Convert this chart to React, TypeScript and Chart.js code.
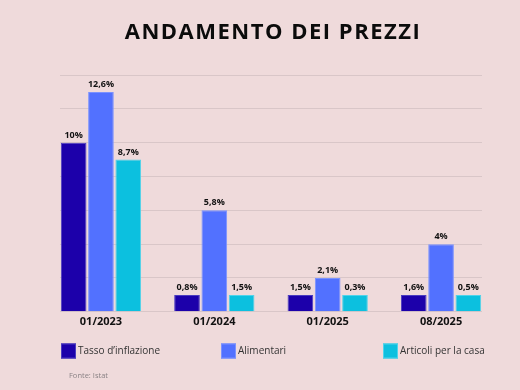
import React, { useEffect, useRef } from "react";
import { Chart, registerables } from "chart.js";

Chart.register(...registerables);

const TITLE = "ANDAMENTO DEI PREZZI";
const SOURCE = "Fonte: Istat";
const categories = ["01/2023", "01/2024", "01/2025", "08/2025"];
const seriesNames = ["Tasso d’inflazione", "Alimentari", "Articoli per la casa"];
const seriesColors = ["#1C00AA", "#5271FF", "#0CC0DF"];
const seriesBorders = ["#4A3BC0", "#7A92FF", "#4FD3EA"];

// bar heights as drawn in the picture
const inflazione = [10, 1, 1, 1];
const alimentari = [13, 6, 2, 4];
const casa = [9, 1, 1, 1];

// value labels printed above the bars
const inflazioneLabels = ["10%", "0,8%", "1,5%", "1,6%"];
const alimentariLabels = ["12,6%", "5,8%", "2,1%", "4%"];
const casaLabels = ["8,7%", "1,5%", "0,3%", "0,5%"];

const yMin = 0;
const yMax = 14;
const yStep = 2;

const BG = "#EFDADB";
const GRID = "#D9C6C8";

const values = [inflazione, alimentari, casa];
const labelSets = [inflazioneLabels, alimentariLabels, casaLabels];

const overlayPlugin = {
  id: "overlay",
  afterDatasetsDraw(chart: any) {
    const ctx = chart.ctx;
    ctx.save();
    ctx.fillStyle = "#111";
    ctx.font = "bold 9px 'Open Sans'";
    ctx.textAlign = "center";
    ctx.textBaseline = "bottom";
    chart.data.datasets.forEach((ds: any, di: number) => {
      const meta = chart.getDatasetMeta(di);
      meta.data.forEach((bar: any, i: number) => {
        ctx.fillText(ds.valueLabels[i], bar.x, bar.y - 3);
      });
    });
    ctx.restore();
  },
  afterDraw(chart: any) {
    const ctx = chart.ctx;
    const area = chart.chartArea;
    ctx.save();
    // title
    ctx.fillStyle = "#0B0B0B";
    ctx.font = "bold 22px 'Open Sans'";
    ctx.textAlign = "center";
    ctx.textBaseline = "middle";
    (ctx as any).letterSpacing = "1.5px";
    ctx.fillText(TITLE, (area.left + area.right) / 2 + 2, 33);
    (ctx as any).letterSpacing = "0px";
    // legend
    const legendX = [61, 221, 383];
    const legendY = 351;
    ctx.textAlign = "left";
    ctx.font = "10px 'Open Sans'";
    chart.data.datasets.forEach((ds: any, di: number) => {
      const x = legendX[di];
      ctx.fillStyle = ds.backgroundColor;
      ctx.fillRect(x, legendY - 7.5, 15, 15);
      ctx.strokeStyle = ds.borderColor;
      ctx.lineWidth = 1;
      ctx.strokeRect(x + 0.5, legendY - 7, 14, 14);
      ctx.fillStyle = "#333";
      ctx.fillText(ds.label, x + 17, legendY);
    });
    // source
    ctx.fillStyle = "#8A8285";
    ctx.font = "7.5px 'Open Sans'";
    ctx.fillText(SOURCE, 69, 376);
    ctx.restore();
  },
};

export default function App() {
  const canvasRef = useRef<HTMLCanvasElement | null>(null);

  useEffect(() => {
    if (!canvasRef.current) return;
    const chart = new Chart(canvasRef.current, {
      type: "bar",
      data: {
        datasets: seriesNames.map((name, di) => ({
          label: name,
          data: values[di].map((v, i) => ({ x: i, y: v })),
          valueLabels: labelSets[di],
          backgroundColor: seriesColors[di],
          borderColor: seriesBorders[di],
          borderWidth: 1,
          categoryPercentage: 0.7225,
          barPercentage: 0.94,
        })) as any,
      },
      options: {
        responsive: false,
        animation: false,
        layout: { padding: { top: 75, left: 60, right: 38, bottom: 59 } },
        plugins: {
          legend: { display: false },
          title: { display: false },
          tooltip: { enabled: false },
        },
        scales: {
          x: {
            type: "linear",
            offset: false,
            bounds: "data",
            min: -0.3612,
            max: categories.length - 1 + 0.3612,
            afterBuildTicks: (axis: any) => {
              axis.ticks = categories.map((_, i) => ({ value: i }));
            },
            grid: { display: false, drawTicks: false, offset: false },
            border: { display: false },
            ticks: {
              callback: (v: any) => categories[Math.round(Number(v))] ?? "",
              color: "#111",
              font: { family: "'Open Sans'", size: 11, weight: "bold" },
              padding: 3,
              maxRotation: 0,
              autoSkip: false,
            },
          },
          y: {
            min: yMin,
            max: yMax,
            ticks: { display: false, stepSize: yStep },
            grid: { color: GRID, lineWidth: 1, drawTicks: false },
            border: { display: false },
          },
        },
      },
      plugins: [overlayPlugin],
    });
    return () => chart.destroy();
  }, []);

  return (
    <div
      style={{
        position: "fixed",
        left: 0,
        top: 0,
        width: 520,
        height: 390,
        background: BG,
      }}
    >
      <canvas ref={canvasRef} width={520} height={390} />
    </div>
  );
}
